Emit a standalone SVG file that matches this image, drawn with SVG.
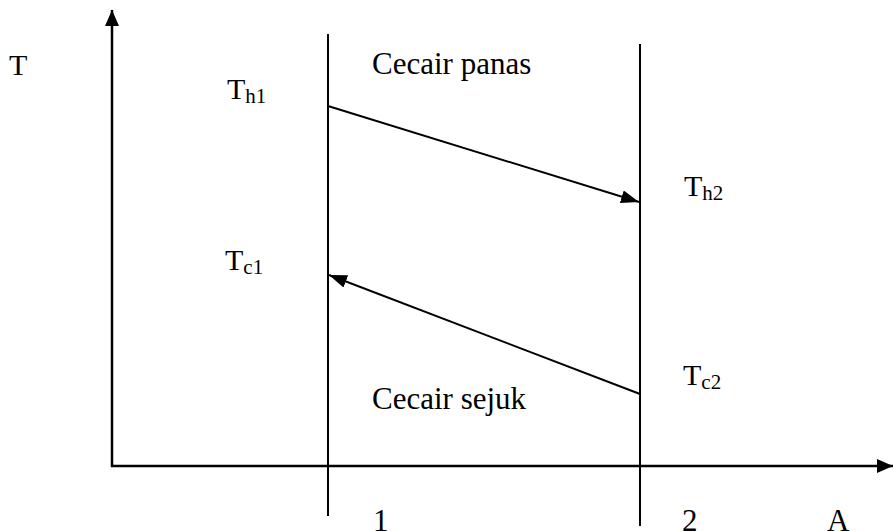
<svg xmlns="http://www.w3.org/2000/svg" width="893" height="531" viewBox="0 0 893 531">
<style>
.ln{stroke:#000;stroke-width:2;fill:none}
.ax{stroke:#000;stroke-width:2.5;fill:none}
text{font-family:"Liberation Serif","Times New Roman",serif;fill:#000}
.t{font-size:31px}
.tl{font-size:30px}
.s{font-size:21px}
</style>
<defs>
<marker id="ah" markerWidth="16" markerHeight="14" refX="16" refY="7" orient="auto" markerUnits="userSpaceOnUse">
<path d="M0,0 L16,7 L0,14 Z" fill="#000"/>
</marker>
<marker id="ahb" markerWidth="18" markerHeight="13" refX="18" refY="6.5" orient="auto" markerUnits="userSpaceOnUse">
<path d="M0,0 L18,6.5 L0,13 Z" fill="#000"/>
</marker>
</defs>
<g id="axes">
<line class="ax" x1="112" y1="467" x2="112" y2="10" marker-end="url(#ah)"/>
<line class="ax" x1="111" y1="466" x2="893" y2="466" marker-end="url(#ah)"/>
</g>
<g id="wall1"><line class="ln" x1="328" y1="34" x2="328" y2="516"/></g>
<g id="wall2"><line class="ln" x1="640" y1="44" x2="640" y2="526"/></g>
<g id="connectors">
<line class="ln" x1="328" y1="106" x2="639" y2="202" marker-end="url(#ahb)"/>
<line class="ln" x1="640" y1="394" x2="329" y2="275" marker-end="url(#ahb)"/>
</g>
<g id="labels">
<text class="tl" x="9" y="75">T</text>
<text class="tl" x="227" y="99">T<tspan class="s" dy="4">h1</tspan></text>
<text class="t" x="372" y="74">Cecair panas</text>
<text class="tl" x="684" y="196">T<tspan class="s" dy="4">h2</tspan></text>
<text class="tl" x="225" y="270">T<tspan class="s" dy="4">c1</tspan></text>
<text class="tl" x="683" y="385">T<tspan class="s" dy="4">c2</tspan></text>
<text class="t" x="372" y="409">Cecair sejuk</text>
<text class="t" x="373" y="531">1</text>
<text class="t" x="682" y="531">2</text>
<text class="t" x="827" y="531">A</text>
</g>
</svg>
